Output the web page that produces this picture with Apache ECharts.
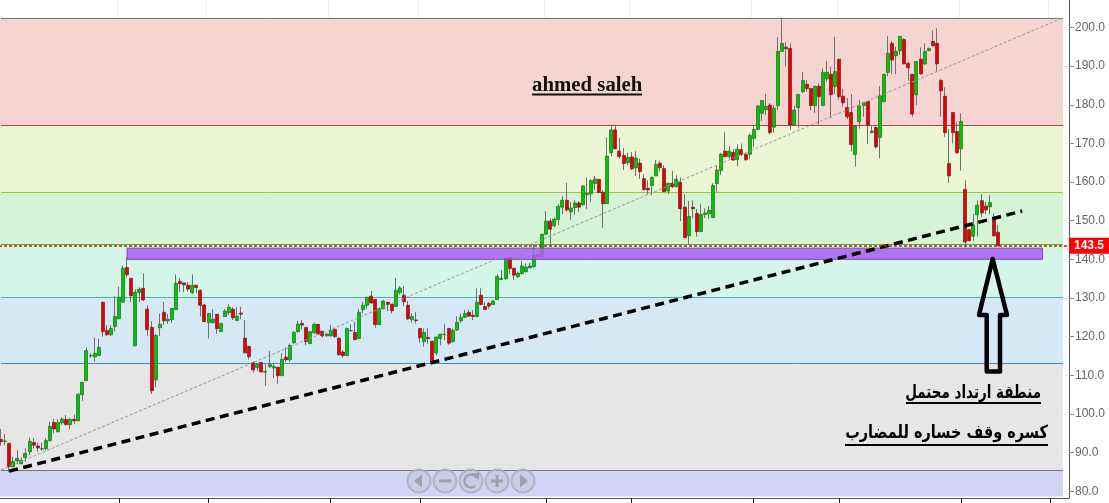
<!DOCTYPE html>
<html><head><meta charset="utf-8">
<style>html,body{margin:0;padding:0;background:#fff}#c{width:1109px;height:503px}</style>
<script src="https://cdn.jsdelivr.net/npm/echarts@6/dist/echarts.min.js"></script>
</head><body><div id="c"></div>
<script>
const opens=[93.4,92.9,92.4,86.3,87.8,87.1,88.7,90.2,92.6,91.7,
90.9,91.0,93.1,97.8,95.4,97.7,98.6,97.2,98.6,98.2,
105.0,108.6,115.0,114.8,115.1,128.9,121.6,120.5,122.6,124.6,
128.9,137.9,135.1,117.6,131.4,132.5,127.1,122.4,108.8,122.3,
126.3,124.1,124.4,127.0,134.3,133.9,133.3,131.4,133.3,132.0,
128.2,123.6,123.6,125.8,121.3,125.2,126.2,127.1,124.2,126.1,
119.6,117.5,113.2,112.0,113.3,110.8,112.2,111.9,112.1,109.9,
114.7,114.0,118.4,121.3,123.4,122.4,118.2,121.0,123.2,121.4,
120.2,120.2,121.9,119.6,116.0,115.1,121.5,121.1,119.5,127.0,
128.1,130.5,129.6,123.1,127.2,128.9,128.4,127.8,131.4,130.7,
128.1,124.4,124.3,122.1,118.7,119.8,118.8,115.8,119.5,120.5,
122.1,118.7,121.7,124.1,125.0,126.3,125.5,125.2,130.7,127.8,
128.6,128.3,129.6,134.8,135.0,140.5,137.7,135.5,136.3,136.8,
137.8,138.1,141.1,140.7,146.5,149.9,148.7,150.3,153.5,155.3,
152.3,153.4,154.6,154.1,156.7,157.0,159.6,160.7,157.4,154.4,
167.6,173.5,168.0,166.9,165.0,166.5,163.7,164.9,160.9,158.4,
159.1,161.6,164.9,163.5,157.7,159.7,158.8,159.9,153.5,146.1,
153.5,151.9,147.2,151.6,151.8,150.8,159.6,163.0,168.0,166.6,
167.7,165.8,168.4,167.2,167.2,171.3,173.6,177.8,178.7,179.9,
174.2,179.8,193.8,194.9,194.6,174.8,179.3,183.4,185.3,184.2,
179.8,184.8,179.8,186.7,187.9,184.7,191.8,182.2,179.3,178.0,
167.1,175.6,179.8,180.9,172.8,174.1,171.5,180.8,188.4,195.9,
192.7,194.0,196.9,190.7,187.9,182.6,191.8,190.6,194.0,196.4,
195.9,186.3,182.2,164.8,178.0,173.1,168.6,158.1,147.7,146.0,
151.5,155.2,153.8,153.6,150.6,147.0];
const closes=[92.8,93.0,86.3,87.7,88.5,88.0,89.8,92.9,91.9,91.2,
91.0,93.1,96.8,96.1,97.8,98.7,97.2,98.6,98.2,105.1,
108.2,116.4,115.1,115.7,117.2,121.3,120.5,122.1,125.2,130.2,
137.7,136.0,130.6,131.5,132.3,129.5,121.8,106.0,120.3,123.2,
124.1,124.5,127.3,133.8,133.7,133.4,132.3,133.3,132.7,128.1,
123.9,126.0,124.5,122.1,123.4,126.6,127.6,124.9,125.3,125.8,
115.8,114.8,111.4,112.8,110.9,111.0,112.8,112.3,109.9,114.1,
114.0,117.7,121.1,123.2,123.0,118.7,121.3,123.2,120.7,120.2,
120.7,121.6,120.0,115.3,115.1,122.1,121.6,119.2,126.3,128.1,
130.2,128.7,123.1,127.3,129.2,128.3,126.7,132.0,132.6,129.0,
124.6,125.2,124.2,119.7,121.1,119.5,113.1,119.9,120.6,120.6,
118.3,121.6,123.7,125.0,126.0,125.3,125.2,128.9,128.3,127.0,
127.9,129.2,135.6,135.1,140.3,137.6,135.9,136.4,138.3,138.0,
138.3,141.0,140.6,146.5,149.9,147.8,150.4,153.7,155.3,152.8,
153.3,154.6,153.5,159.0,157.1,160.4,160.8,157.3,154.4,166.7,
173.5,168.6,166.6,164.8,166.4,163.4,166.2,162.7,158.0,158.0,
161.2,164.6,163.7,157.5,159.7,158.8,160.7,153.1,145.6,151.1,
153.1,147.2,151.6,152.0,152.7,159.1,163.1,167.2,166.6,168.0,
165.7,168.5,167.1,165.8,172.1,173.6,179.7,181.1,179.6,172.8,
179.1,193.8,195.9,194.5,174.8,178.6,182.7,186.3,184.2,179.8,
184.8,182.1,188.4,188.4,182.6,188.6,182.1,180.5,176.9,169.7,
174.5,179.7,180.6,174.7,173.2,169.1,182.3,187.9,193.3,191.6,
193.8,197.7,190.6,189.6,177.6,191.2,188.0,193.8,194.6,195.3,
190.6,183.6,172.8,161.6,172.8,167.6,175.7,144.5,144.8,148.9,
154.0,152.0,152.8,154.7,146.1,143.5];
const lows=[91.8,91.9,85.0,86.2,87.0,87.0,87.6,89.3,91.1,90.2,
90.5,90.5,92.8,95.0,95.2,97.2,97.1,96.0,97.3,98.2,
103.4,108.6,114.5,113.5,115.0,120.0,120.2,120.2,121.3,124.6,
128.9,135.3,129.0,117.6,129.0,129.2,120.2,105.2,107.0,120.2,
123.0,123.3,123.6,127.0,131.5,131.5,131.6,131.0,131.3,125.2,
123.7,119.5,123.4,120.7,121.3,125.2,125.6,124.3,124.0,124.5,
115.8,114.1,110.7,111.2,110.7,107.3,112.0,109.3,107.8,109.9,
113.5,113.5,118.2,121.0,121.9,117.8,118.2,120.8,120.4,119.8,
120.0,120.0,119.7,115.1,114.5,115.1,121.3,119.2,119.4,126.0,
127.2,128.6,122.3,123.0,127.1,126.6,126.0,127.7,130.9,127.9,
124.3,123.6,123.4,118.4,117.4,118.2,112.9,115.2,117.8,119.1,
117.9,118.5,121.5,123.6,124.8,125.2,124.3,125.0,128.1,126.9,
127.2,128.2,129.6,134.6,134.6,136.2,134.6,135.2,136.1,136.6,
137.7,137.9,140.3,140.2,146.3,143.4,148.3,148.9,151.7,152.3,
150.2,151.5,152.3,154.0,153.0,154.8,157.9,157.1,148.2,154.4,
166.7,168.6,166.0,163.1,164.4,163.2,161.6,160.8,157.9,156.9,
156.6,161.6,162.7,157.4,156.9,158.5,158.7,149.9,145.5,143.8,
150.6,145.9,147.1,150.7,150.5,150.8,157.5,161.8,166.4,166.0,
165.5,164.0,166.7,165.5,165.9,169.1,173.5,175.8,177.4,172.3,
172.8,178.6,193.7,189.9,173.5,174.8,173.9,183.0,183.4,178.6,
177.9,174.8,179.7,186.0,176.5,182.8,181.4,179.5,176.3,167.9,
164.0,173.8,176.9,169.8,172.6,168.7,166.1,180.7,187.4,187.9,
187.9,192.9,190.5,186.2,176.9,179.9,187.9,190.3,193.9,195.2,
188.6,176.9,171.7,159.8,170.0,167.4,162.9,143.3,144.8,144.8,
145.9,151.0,151.7,151.7,145.9,143.5];
const highs=[96.1,94.8,92.5,88.9,90.6,88.7,91.1,93.9,93.7,92.5,
92.6,93.7,98.0,98.7,98.7,99.1,99.7,99.0,99.8,105.3,
108.2,117.2,115.7,119.8,119.5,129.1,123.0,123.0,130.5,132.9,
138.3,140.7,135.1,132.3,132.8,136.4,128.1,124.0,120.7,126.0,
129.0,125.9,127.3,136.1,135.1,134.0,134.1,136.1,133.3,132.2,
128.4,126.0,127.1,125.8,123.6,127.1,128.4,127.7,127.6,127.7,
124.3,117.5,113.5,113.1,113.3,113.1,116.3,113.1,112.1,115.7,
117.2,118.2,121.4,124.1,124.3,122.4,121.3,123.6,123.2,121.4,
120.8,123.0,122.1,119.8,116.5,122.4,123.2,123.9,127.1,129.0,
130.2,131.8,129.6,127.6,129.5,129.0,128.4,135.2,133.1,133.1,
129.2,126.0,126.4,122.1,122.1,122.2,118.9,120.0,120.8,123.3,
122.3,122.1,125.3,126.0,126.9,126.9,126.9,132.5,132.5,129.0,
129.0,129.5,136.2,137.2,140.4,140.5,137.8,136.8,139.6,139.0,
139.1,143.7,141.4,146.5,152.5,150.6,150.9,154.3,156.4,159.8,
154.9,155.3,155.1,159.2,161.2,160.7,161.6,160.7,157.9,171.6,
174.9,174.9,171.4,168.8,167.6,167.8,168.0,166.1,162.0,160.5,
161.4,165.7,165.4,164.4,159.8,162.9,161.8,161.2,156.9,155.1,
155.3,153.0,154.3,153.2,153.8,159.7,164.2,167.6,172.9,169.3,
168.5,169.8,170.0,167.6,172.6,174.8,179.9,181.1,182.8,180.4,
179.9,197.5,202.6,196.2,195.9,179.7,182.8,188.5,186.4,184.4,
184.9,185.5,189.4,191.3,189.9,197.6,191.8,184.1,181.7,182.7,
174.5,181.2,180.8,180.9,174.7,174.6,184.9,187.9,197.8,196.5,
195.0,197.7,197.2,191.2,187.9,191.2,194.9,195.9,194.8,199.2,
199.8,186.7,184.5,173.7,178.0,175.5,177.8,160.5,147.7,151.7,
155.3,156.9,154.9,156.6,151.9,148.9];
const bandLevels=[202.5,174.7,157.3,143.9,130.2,113.2,85.4,78.6];
const bandColors=['#f5d4d2','#ecf5d4','#d5f4d5','#d4f6ea','#d4e9f5','#e6e6e6','#d3d4f5'];
const levelColors=['#777777','#b84040','#a5c040','#22cc22','#40b8a0','#3a8fc0','#777777'];
const priceTicks=[200,190,180,170,160,150,140,130,120,110,100,90,80];
const timeTickIdx=[29,51,81,103,134,155,185,206,236,258];
const slots=263, bandEndIdx=261, zoneEndIdx=256, zoneStartIdx=31;
const categories=Array.from({length:slots},(_,i)=>String(i));
const lastPrice=143.5;
const zoneRange=[140.0,142.9];
const fanLine=[[0,85.5],[261,202.5]];
const supportLine=[[2,85.2],[251,152.5]];
const wicks=opens.map((o,i)=>[o,closes[i],lows[i],highs[i]]);
const bodies=opens.map((o,i)=>{const c=closes[i];return [o,c,Math.min(o,c),Math.max(o,c)];});

const chart=echarts.init(document.getElementById('c'),null,{renderer:'canvas'});
const tickSet=new Set(timeTickIdx);
const seg=(p,style)=>[{xAxis:p[0][0],yAxis:p[0][1],lineStyle:style},{xAxis:p[1][0],yAxis:p[1][1]}];

const circle=(cx)=>({type:'circle',shape:{cx,cy:481,r:11.5},style:{fill:'rgba(190,190,205,0.4)',stroke:'rgba(170,170,185,0.75)',lineWidth:2},z:50});
const ic='#a0a0ac';
const reloadPts=[];for(let a=-0.5;a>-5.4;a-=0.35){reloadPts.push([471+6.5*Math.cos(a),481+6.5*Math.sin(a)]);}
const graphics=[
 {type:'text',x:532,y:75,style:{text:'ahmed saleh',font:'bold 20.8px "Liberation Serif"',fill:'#111'},z:60},
 {type:'line',shape:{x1:532,y1:94.5,x2:642,y2:94.5},style:{stroke:'#111',lineWidth:2},z:60},
 {type:'text',x:1041,y:384,scaleX:0.75,style:{text:'منطقة ارتداد محتمل',font:'bold 18px "DejaVu Sans"',fill:'#000',align:'right'},z:60},
 {type:'line',shape:{x1:906,y1:403,x2:1041,y2:403},style:{stroke:'#000',lineWidth:2},z:60},
 {type:'text',x:1048,y:424,scaleX:0.805,style:{text:'كسره وقف خساره للمضارب',font:'bold 18px "DejaVu Sans"',fill:'#000',align:'right'},z:60},
 {type:'line',shape:{x1:845,y1:445,x2:1048,y2:445},style:{stroke:'#000',lineWidth:2},z:60},
 {type:'polygon',shape:{points:[[992.7,259],[979,315],[986.7,315],[986.7,371.5],[1000,371.5],[1000,315],[1007,315]]},style:{fill:'none',stroke:'#000',lineWidth:4.5,lineJoin:'round'},z:60},
 circle(419),circle(445),circle(471),circle(497),circle(523),
 {type:'polygon',shape:{points:[[414,481],[422,474.5],[422,487.5]]},style:{fill:ic},z:51},
 {type:'rect',shape:{x:439,y:479.5,width:12,height:3},style:{fill:ic},z:51},
 {type:'polyline',shape:{points:reloadPts},style:{fill:'none',stroke:ic,lineWidth:2.5},z:51},
 {type:'polygon',shape:{points:[[472,473],[479,473],[479,480]]},style:{fill:ic},z:51},
 {type:'rect',shape:{x:491,y:479.5,width:12,height:3},style:{fill:ic},z:51},
 {type:'rect',shape:{x:495.5,y:475,width:3,height:12},style:{fill:ic},z:51},
 {type:'polygon',shape:{points:[[528,481],[520,474.5],[520,487.5]]},style:{fill:ic},z:51}
];

chart.setOption({
 animation:false,
 backgroundColor:'#fff',
 grid:{left:-1,width:1070,top:0,height:498,outerBoundsMode:'none'},
 xAxis:{type:'category',data:categories,boundaryGap:true,
  axisLine:{lineStyle:{color:'#555',width:1}},
  axisTick:{show:true,alignWithLabel:true,length:5,interval:(i)=>tickSet.has(i),lineStyle:{color:'#222',width:1}},
  axisLabel:{show:false},
  splitLine:{show:true,interval:(i)=>tickSet.has(i),lineStyle:{color:'rgba(170,170,170,0.22)',width:1}}},
 yAxis:{type:'value',position:'right',min:78.24,max:207.12,scale:true,
  axisLine:{show:true,lineStyle:{color:'#555',width:1}},
  axisTick:{show:true,length:5,customValues:priceTicks,lineStyle:{color:'#888'}},
  axisLabel:{customValues:priceTicks,margin:6,color:'#666',fontFamily:'Liberation Sans',fontSize:12,formatter:v=>v.toFixed(1)},
  splitLine:{show:true,lineStyle:{color:'rgba(170,170,170,0.22)',width:1}}},
 graphic:{elements:graphics},
 series:[
  {type:'candlestick',name:'wicks',data:wicks,barWidth:1,z:3,
   itemStyle:{color:'#707070',color0:'#707070',borderColor:'#707070',borderColor0:'#707070',borderColorDoji:'#707070',borderWidth:1},
   markArea:{silent:true,z:1,data:bandColors.map((c,i)=>[
     {yAxis:bandLevels[i],itemStyle:{color:c,opacity:1}},
     {yAxis:bandLevels[i+1],xAxis:bandEndIdx}])},
   markLine:{silent:true,symbol:'none',z:2,label:{show:false},data:levelColors.map((c,i)=>[
     {xAxis:0,yAxis:bandLevels[i],lineStyle:{color:c,width:1,type:'solid'}},
     {xAxis:bandEndIdx,yAxis:bandLevels[i]}])}
  },
  {type:'candlestick',name:'bodies',data:bodies,barWidth:3.5,z:4,
   itemStyle:{color:'#00c800',color0:'#e60000',borderColor:'#1e6b1e',borderColor0:'#7a1a1a',borderColorDoji:'#1e6b1e',borderWidth:0.7}
  },
  {type:'line',name:'overlays',data:[],z:6,showSymbol:false,
   markArea:{silent:true,z:5,data:[[
     {xAxis:zoneStartIdx,yAxis:zoneRange[1],itemStyle:{color:'rgba(165,95,240,0.85)',borderColor:'#8a3fc8',borderWidth:1}},
     {xAxis:zoneEndIdx,yAxis:zoneRange[0]}]]},
   markLine:{silent:true,symbol:'none',z:6,precision:2,label:{show:false},data:[
     seg(fanLine,{color:'#9a9a9a',width:1,type:[3,2]}),
     seg(supportLine,{color:'#000',width:3.5,type:[9,5.5]}),
     {yAxis:lastPrice,lineStyle:{color:'#ff0000',width:1.5,type:[3,2]},
      label:{show:true,position:'end',distance:0,formatter:'143.5',backgroundColor:'#ff0000',color:'#fff',fontWeight:'bold',fontFamily:'Liberation Sans',fontSize:12,padding:[2,5,2,5]}}
   ]}
  }
 ]
});
</script></body></html>
